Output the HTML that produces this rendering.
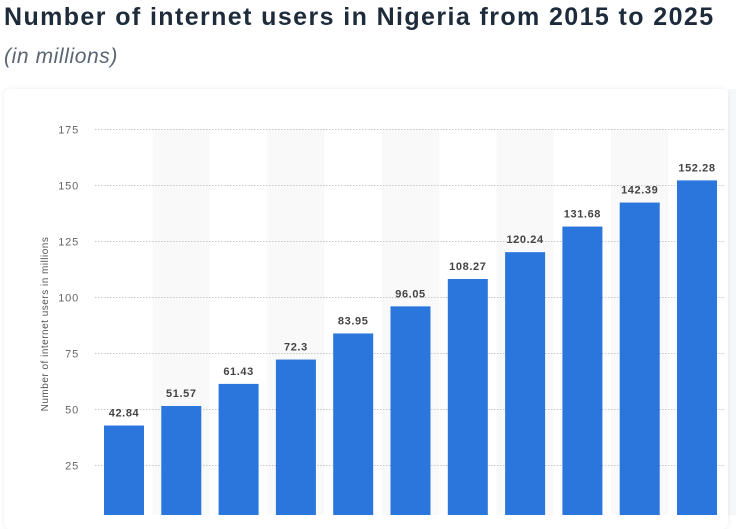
<!DOCTYPE html>
<html><head><meta charset="utf-8"><style>
body{margin:0;width:736px;height:515px;overflow:hidden;background:#fff;font-family:"Liberation Sans",sans-serif;position:relative}
#title{position:absolute;left:4px;top:3px;font-size:25px;color:#1d2b3a;font-weight:bold;letter-spacing:1.4px;white-space:nowrap}
#sub{position:absolute;left:4px;top:45px;font-size:21px;color:#5b6675;font-style:italic;letter-spacing:0.6px}
#card{position:absolute;left:4px;top:89px;width:724px;height:440px;background:#fff;border-radius:6px;box-shadow:0 0 6px rgba(0,0,0,0.08)}
#edge{position:absolute;left:728px;top:89px;width:8px;height:426px;background:#f6f7f9}
svg{position:absolute;left:0;top:0}
</style></head><body>
<div id="title">Number of internet users in Nigeria from 2015 to 2025</div>
<div id="sub">(in millions)</div>
<div id="edge"></div>
<div id="card"></div>
<svg id="chart" width="736" height="515"></svg>
<script>
const categories=["2015","2016","2017","2018","2019","2020","2021","2022","2023","2024","2025"];
const values=[42.84,51.57,61.43,72.3,83.95,96.05,108.27,120.24,131.68,142.39,152.28];
const valueLabels=["42.84","51.57","61.43","72.3","83.95","96.05","108.27","120.24","131.68","142.39","152.28"];
const ticks=[25,50,75,100,125,150,175];
const ns="http://www.w3.org/2000/svg";
const svg=document.getElementById('chart');
const y0=521.5,pxPer=56/25;
const yS=v=>y0-v*pxPer;
const step=57.3,x0=124;
const xC=i=>x0+i*step;
function mk(t,a){const e=document.createElementNS(ns,t);for(const k in a)e.setAttribute(k,a[k]);svg.appendChild(e);return e;}
categories.forEach((c,i)=>{if(i%2==1){const r=mk('rect',{x:xC(i)-step/2,y:129,width:step,height:400,fill:'#f9f9f9'});

}});
ticks.forEach(t=>{const l=mk('line',{x1:95,x2:724,y1:yS(t),y2:yS(t),stroke:'#c8c8c8','stroke-dasharray':'1.5,1.5','stroke-width':1});


const tx=mk('text',{x:79,y:yS(t)+4,'text-anchor':'end','font-size':'11','fill':'#666','letter-spacing':'0.8'});tx.textContent=t;

});
values.forEach((v,i)=>{const b=mk('rect',{x:xC(i)-20,y:yS(v),width:40,height:y0-yS(v),fill:'#2a76dc'});


const t=mk('text',{x:xC(i),y:yS(v)-9,'text-anchor':'middle','font-size':'11','font-weight':'bold','fill':'#444','letter-spacing':'0.6'});t.textContent=valueLabels[i];

});
const at=mk('text',{x:0,y:0,'text-anchor':'middle','font-size':'10','fill':'#555','letter-spacing':'0.5',transform:'translate(48,324) rotate(-90)'});at.textContent='Number of internet users in millions';


</script>
</body></html>
